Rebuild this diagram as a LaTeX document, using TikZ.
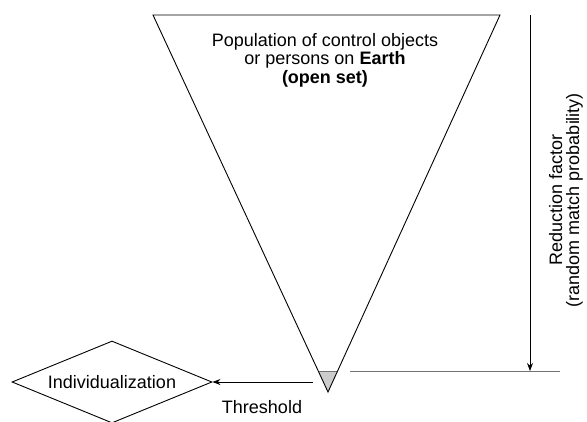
\documentclass[tikz,border=0pt]{standalone}
\usepackage{fontspec}
\setmainfont{Liberation Sans}
\usetikzlibrary{shapes.geometric,arrows.meta}
\begin{document}
\begin{tikzpicture}[x=1pt,y=-1pt,
  txt/.style={font=\fontsize{18}{18.5}\selectfont, align=center, inner sep=0pt},
  rtxt/.style={font=\fontsize{18}{17}\selectfont, align=center, inner sep=0pt, rotate=90},
  edge/.style={line width=0.9pt, black},
  conn/.style={line width=0.8pt, black, -{Stealth[length=8pt,width=6pt]}},
  greyline/.style={line width=1pt, black!55}
]
\useasboundingbox (0,0) rectangle (587,421);
% funnel
\coordinate (tl) at (153,15);
\coordinate (tr) at (500,15);
\coordinate (apex) at (328,392);
\coordinate (gl) at (318.3,371);
\coordinate (gr) at (337.4,371);
\fill[black!20] (gl) -- (gr) -- (apex) -- cycle;
\draw[greyline] (gl) -- (gr);
\draw[edge, line join=miter] (tl) -- (tr) -- (apex) -- cycle;
\node[txt] (pop) at (325,60) {Population of control objects\\or persons on \textbf{Earth}\\\textbf{(open set)}};
% reduction factor
\coordinate (atop) at (530,15);
\coordinate (abot) at (530,371);
\coordinate (hl) at (350,371);
\coordinate (hr) at (560,371);
\draw[greyline] (hl) -- (hr);
\draw[conn] (atop) -- (abot);
\node[rtxt] (red) at (566,200) {Reduction factor\\(random match probability)};
% individualization
\node[diamond, draw, line width=0.9pt, aspect=2.44, minimum width=200pt, minimum height=82pt, inner sep=0pt, font=\fontsize{18}{18.5}\selectfont] (ind) at (112,382) {Individualization};
\coordinate (thr) at (313,382);
\draw[conn] (thr) -- (ind.east);
\node[txt] (thlabel) at (262,407) {Threshold};
\end{tikzpicture}
\end{document}
